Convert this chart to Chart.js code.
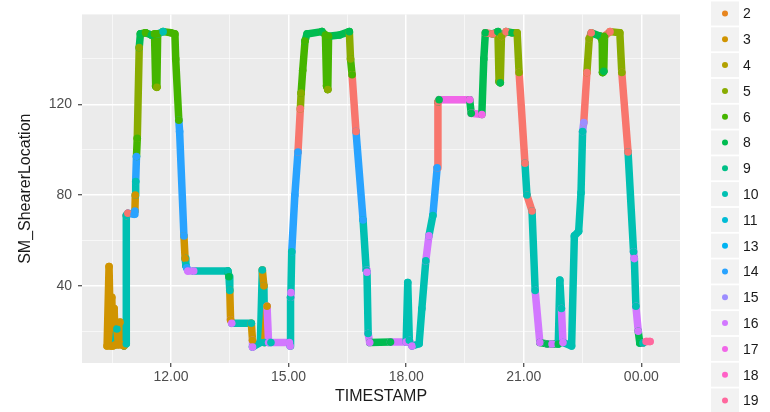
<!DOCTYPE html>
<html>
<head>
<meta charset="utf-8">
<script src="https://cdn.jsdelivr.net/npm/chart.js@4.4.1/dist/chart.umd.min.js"></script>
<style>
    html, body { margin: 0; padding: 0; background: #ffffff; }
</style>
</head>
<body>
<canvas id="shearerChart" width="770" height="412"></canvas>
<script>
// Shift categories (factor levels) - "1" sits above the visible legend
const CATEGORIES = [1, 2, 3, 4, 5, 6, 8, 9, 10, 11, 13, 14, 15, 16, 17, 18, 19];

// Trace: time of day (hours), location, shift category
const TIME = [
    10.37, 10.42, 10.46, 10.49, 10.52, 10.55, 10.58, 10.62, 10.66, 10.70,
    10.74, 10.80, 10.86, 10.86, 10.90, 11.06, 11.08, 11.09, 11.10, 11.12,
    11.14, 11.19, 11.22, 11.35, 11.50, 11.58, 11.61, 11.64, 11.66, 11.80,
    12.00, 12.10, 12.12, 12.20, 12.22, 12.33, 12.36, 12.38, 12.40, 12.43,
    12.58, 13.45, 13.48, 13.50, 13.52, 13.55, 14.05, 14.08, 14.08, 14.28,
    14.33, 14.37, 14.39, 14.45, 14.49, 14.55, 15.02, 15.04, 15.05, 15.06,
    15.08, 15.16, 15.24, 15.30, 15.32, 15.36, 15.42, 15.47, 15.85, 15.94,
    15.97, 16.00, 16.02, 16.30, 16.55, 16.58, 16.62, 16.72, 16.90, 16.98,
    17.00, 17.03, 17.07, 17.60, 18.00, 18.04, 18.08, 18.15, 18.33, 18.40,
    18.50, 18.58, 18.68, 18.79, 18.81, 18.84, 19.62, 19.66, 19.93, 19.98,
    20.02, 20.20, 20.34, 20.37, 20.40, 20.43, 20.55, 20.70, 20.83, 20.88,
    21.03, 21.08, 21.21, 21.29, 21.41, 21.60, 21.72, 21.88, 21.92, 21.96,
    22.00, 22.22, 22.29, 22.40, 22.46, 22.50, 22.53, 22.61, 22.67, 22.72,
    22.95, 23.00, 23.01, 23.04, 23.06, 23.20, 23.45, 23.50, 23.66, 23.80,
    23.82, 23.86, 23.92, 23.96, 24.04, 24.12, 24.22
];
const LOCATION = [
    13.5, 48.5, 13.5, 35, 13.5, 30, 14, 21, 14, 24,
    14, 13.5, 14.5, 71, 72, 71.5, 73, 80, 86, 97,
    105, 145, 151, 151.5, 150.5, 151, 128, 127.5, 151, 152,
    151.5, 151, 140, 113, 108, 62, 52, 49, 48, 46.5,
    46.5, 46.5, 44, 38, 25, 23.5, 23.5, 16, 13, 15,
    47, 40, 15, 31, 15, 15, 15, 13.5, 35, 37,
    55, 80, 99, 118, 125, 135, 148, 151, 152, 150.5,
    128, 126.5, 150, 150.5, 152, 140, 133, 108, 69, 47,
    46, 19, 15, 15.2, 15.2, 41.5, 16, 13.5, 14.5, 30,
    51, 62, 71, 92, 121, 122, 122, 116, 115.5, 140,
    151.5, 151, 152, 130, 129.5, 150, 152, 151.5, 151.5, 134,
    94, 80, 73, 38, 15, 14.4, 14.4, 14.4, 42.5, 30,
    15, 13.5, 62, 64, 81, 108, 112, 134, 149, 151.5,
    150, 148, 134, 134.5, 150, 152, 151.5, 134, 99, 55,
    52, 31, 20, 14.8, 14.8, 15.5, 15.5
];
const SHIFT = [
    3, 3, 3, 3, 3, 3, 3, 10, 3, 3,
    3, 3, 10, 10, 1, 14, 14, 3, 10, 14,
    6, 5, 8, 6, 8, 6, 6, 5, 6, 10,
    6, 6, 6, 6, 14, 14, 3, 10, 14, 16,
    16, 10, 8, 10, 3, 16, 10, 3, 16, 10,
    10, 3, 10, 3, 16, 10, 16, 16, 10, 16,
    10, 14, 14, 1, 5, 6, 6, 8, 8, 6,
    6, 5, 6, 8, 8, 5, 6, 1, 14, 10,
    16, 10, 16, 8, 16, 10, 10, 16, 10, 10,
    10, 16, 10, 14, 1, 8, 17, 8, 17, 8,
    8, 1, 8, 5, 8, 5, 1, 8, 5, 5,
    1, 10, 1, 10, 16, 8, 16, 8, 10, 10,
    16, 10, 10, 10, 10, 10, 15, 1, 5, 1,
    8, 6, 6, 8, 6, 1, 5, 5, 1, 10,
    16, 10, 16, 8, 10, 19, 19
];

// Axis ticks (minor and major), labels only on the major ones
const X_TICKS = [10.5, 12, 13.5, 15, 16.5, 18, 19.5, 21, 22.5, 24];
const X_LABELS = { 12: '12.00', 15: '15.00', 18: '18.00', 21: '21.00', 24: '00.00' };
const Y_TICKS = [20, 40, 60, 80, 100, 120, 140];
const Y_LABELS = { 40: '40', 80: '80', 120: '120' };

const FONT = "'Liberation Sans', Arial, sans-serif";

// ggplot default hue palette: hcl(h, c = 100, l = 65)
function hueColor(h) {
    const c = 100, l = 65;
    const hr = h * Math.PI / 180;
    const U = c * Math.cos(hr), V = c * Math.sin(hr);
    const Xn = 95.047, Yn = 100, Zn = 108.883;
    const den = Xn + 15 * Yn + 3 * Zn;
    const un = 4 * Xn / den, vn = 9 * Yn / den;
    const Y = Yn * Math.pow((l + 16) / 116, 3);
    const u = U / (13 * l) + un, v = V / (13 * l) + vn;
    const X = 9 * Y * u / (4 * v);
    const Z = -X / 3 - 5 * Y + 3 * Y / v;
    const x = X / 100, y = Y / 100, z = Z / 100;
    const lin = [
        3.240479 * x - 1.53715 * y - 0.498535 * z,
        -0.969256 * x + 1.875992 * y + 0.041556 * z,
        0.055648 * x - 0.204043 * y + 1.057311 * z
    ];
    const rgb = lin.map(ch => {
        const g = ch <= 0.0031308 ? 12.92 * ch : 1.055 * Math.pow(ch, 1 / 2.4) - 0.055;
        return Math.round(Math.min(1, Math.max(0, g)) * 255);
    });
    return 'rgb(' + rgb.join(',') + ')';
}

const PALETTE = {};
CATEGORIES.forEach((cat, i) => {
    PALETTE[cat] = hueColor(15 + 360 * i / CATEGORIES.length);
});

// Grey panel behind the grid
const panelBackground = {
    id: 'panelBackground',
    beforeDraw(chart) {
        const { ctx, chartArea: a } = chart;
        ctx.save();
        ctx.fillStyle = '#ebebeb';
        ctx.fillRect(a.left, a.top, a.right - a.left, a.bottom - a.top);
        ctx.restore();
    }
};

// ggplot style legend on the right
const keyLegend = {
    id: 'keyLegend',
    afterDraw(chart) {
        const ctx = chart.ctx;
        const step = 25.8;
        const firstY = -12.3;
        ctx.save();
        CATEGORIES.forEach((cat, i) => {
            const cy = firstY + step * i;
            ctx.fillStyle = '#f2f2f2';
            ctx.fillRect(711, cy - 12, 28, 24);
            ctx.beginPath();
            ctx.arc(725, cy, 3, 0, Math.PI * 2);
            ctx.fillStyle = PALETTE[cat];
            ctx.fill();
            ctx.fillStyle = '#1a1a1a';
            ctx.font = '14px ' + FONT;
            ctx.textAlign = 'left';
            ctx.textBaseline = 'middle';
            ctx.fillText(String(cat), 743, cy + 1);
        });
        ctx.restore();
    }
};

function isMajor(labels, value) {
    return labels[value] !== undefined;
}

function initShearerChart() {
    const canvas = document.getElementById('shearerChart');
    if (!canvas) return;

    const points = TIME.map((t, i) => ({ x: t, y: LOCATION[i] }));

    new Chart(canvas, {
        type: 'line',
        data: {
            datasets: [{
                label: 'SM_ShearerLocation',
                data: points,
                borderWidth: 7.5,
                borderCapStyle: 'round',
                borderJoinStyle: 'round',
                tension: 0,
                fill: false,
                pointRadius: 3.8,
                pointBorderWidth: 0,
                pointBackgroundColor: SHIFT.map(s => PALETTE[s]),
                segment: {
                    borderColor: ctx => PALETTE[SHIFT[ctx.p1DataIndex]]
                }
            }]
        },
        options: {
            responsive: false,
            animation: false,
            layout: { padding: { left: 0, right: 90, top: 8, bottom: 0 } },
            plugins: {
                legend: { display: false },
                tooltip: { enabled: false }
            },
            scales: {
                x: {
                    type: 'linear',
                    min: 9.73,
                    max: 24.985,
                    afterBuildTicks: scale => { scale.ticks = X_TICKS.map(v => ({ value: v })); },
                    afterFit: scale => { scale.height = 49; },
                    border: { display: false },
                    grid: {
                        color: ctx => isMajor(X_LABELS, ctx.tick.value) ? '#ffffff' : 'rgba(255,255,255,0.6)',
                        lineWidth: ctx => isMajor(X_LABELS, ctx.tick.value) ? 1.5 : 1,
                        tickColor: ctx => isMajor(X_LABELS, ctx.tick.value) ? '#333333' : 'rgba(0,0,0,0)',
                        tickLength: 4,
                        tickWidth: 1.1
                    },
                    ticks: {
                        autoSkip: false,
                        maxRotation: 0,
                        padding: 2,
                        color: '#4d4d4d',
                        font: { family: FONT, size: 14 },
                        callback: value => X_LABELS[value] || ''
                    },
                    title: {
                        display: true,
                        text: 'TIMESTAMP',
                        color: '#1a1a1a',
                        font: { family: FONT, size: 16 },
                        padding: { top: 0, bottom: 6 }
                    }
                },
                y: {
                    type: 'linear',
                    min: 6.0,
                    max: 159.6,
                    afterBuildTicks: scale => { scale.ticks = Y_TICKS.map(v => ({ value: v })); },
                    afterFit: scale => { scale.width = 82; },
                    border: { display: false },
                    grid: {
                        color: ctx => isMajor(Y_LABELS, ctx.tick.value) ? '#ffffff' : 'rgba(255,255,255,0.6)',
                        lineWidth: ctx => isMajor(Y_LABELS, ctx.tick.value) ? 1.5 : 1,
                        tickColor: ctx => isMajor(Y_LABELS, ctx.tick.value) ? '#333333' : 'rgba(0,0,0,0)',
                        tickLength: 4,
                        tickWidth: 1.1
                    },
                    ticks: {
                        autoSkip: false,
                        padding: 6,
                        color: '#4d4d4d',
                        font: { family: FONT, size: 14 },
                        callback: value => Y_LABELS[value] || ''
                    },
                    title: {
                        display: true,
                        text: 'SM_ShearerLocation',
                        color: '#1a1a1a',
                        font: { family: FONT, size: 16 },
                        padding: { top: 16, bottom: 0 }
                    }
                }
            }
        },
        plugins: [panelBackground, keyLegend]
    });
}

initShearerChart();
</script>
</body>
</html>
